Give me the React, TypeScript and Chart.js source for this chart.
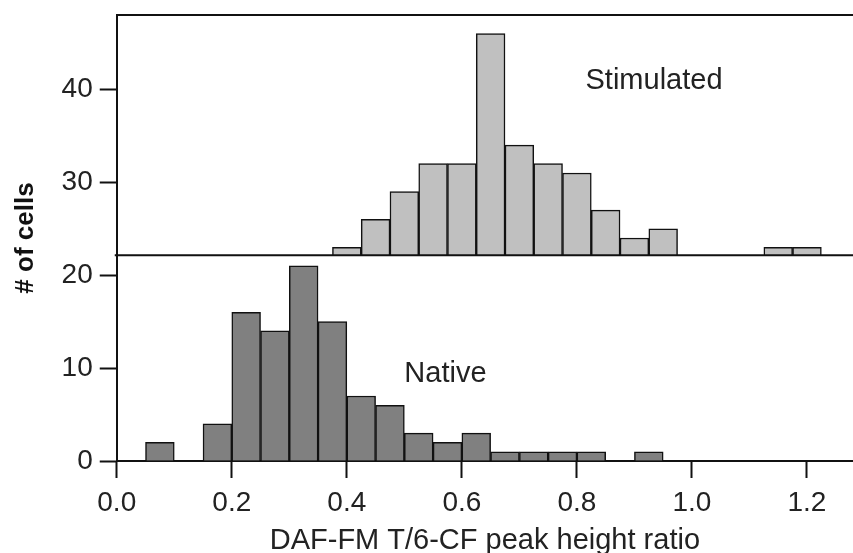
import React, { useEffect, useRef } from "react";
import { Chart, registerables } from "chart.js";

Chart.register(...registerables);

// Native cells histogram (bin centres, counts)
const nativeBins = [0.075, 0.175, 0.225, 0.275, 0.325, 0.375, 0.425, 0.475, 0.525, 0.575, 0.625, 0.675, 0.725, 0.775, 0.825, 0.925];
const nativeCounts = [2, 4, 16, 14, 21, 15, 7, 6, 3, 2, 3, 1, 1, 1, 1, 1];

// Stimulated cells histogram (bin centres, counts on the upper panel's axis)
const stimBins = [0.4, 0.45, 0.5, 0.55, 0.6, 0.65, 0.7, 0.75, 0.8, 0.85, 0.9, 0.95, 1.15, 1.2];
const stimCounts = [23, 26, 29, 32, 32, 46, 34, 32, 31, 27, 24, 25, 23, 23];

// Axis settings
const xMin = 0;
const xMax = 1.28;
const xStep = 0.2;
const yMin = 0;
const yMax = 48;
const yStep = 10;
const upperPanelBase = 22.15;

// Panel labels (text, anchor x, anchor y in data units)
const panelLabels = ["Stimulated", "Native"];
const panelLabelX = [0.815, 0.5];
const panelLabelY = [40, 8.5];

const xTitle = "DAF-FM T/6-CF peak height ratio";
const yTitle = "# of cells";

const FONT = '"Liberation Sans", Arial, Helvetica, sans-serif';
const LINE = "#111111";
const TEXT = "#222222";

const panelPlugin = {
  id: "panelPlugin",
  afterDatasetsDraw(chart: any) {
    const { ctx, chartArea, scales } = chart;
    const xs = scales.x;
    const ys = scales.y;
    ctx.save();
    ctx.strokeStyle = LINE;
    ctx.lineWidth = 2;
    ctx.beginPath();
    ctx.moveTo(chartArea.left, chartArea.top);
    ctx.lineTo(chartArea.right, chartArea.top);
    const sep = ys.getPixelForValue(upperPanelBase);
    ctx.moveTo(chartArea.left - 2, sep);
    ctx.lineTo(chartArea.right, sep);
    ctx.stroke();

    ctx.font = `29px ${FONT}`;
    ctx.fillStyle = TEXT;
    ctx.textAlign = "left";
    ctx.textBaseline = "alphabetic";
    panelLabels.forEach((t, i) => {
      ctx.fillText(t, xs.getPixelForValue(panelLabelX[i]), ys.getPixelForValue(panelLabelY[i]));
    });
    ctx.restore();
  },
};

export default function App() {
  const canvasRef = useRef<HTMLCanvasElement | null>(null);

  useEffect(() => {
    if (!canvasRef.current) return;
    const chart = new Chart(canvasRef.current, {
      type: "bar",
      data: {
        datasets: [
          {
            label: "Native",
            data: nativeBins.map((b, i) => ({ x: b, y: nativeCounts[i] })),
            xAxisID: "x",
            yAxisID: "y",
            backgroundColor: "#808080",
            borderColor: LINE,
            borderWidth: 1.5,
            barPercentage: 1,
            categoryPercentage: 1,
            grouped: false,
          },
          {
            label: "Stimulated",
            data: stimBins.map((b, i) => ({ x: b, y: stimCounts[i] })),
            xAxisID: "xTop",
            yAxisID: "y",
            base: upperPanelBase,
            backgroundColor: "#c0c0c0",
            borderColor: LINE,
            borderWidth: 1.5,
            barPercentage: 1,
            categoryPercentage: 1,
            grouped: false,
          } as any,
        ],
      },
      options: {
        responsive: false,
        animation: false,
        layout: { padding: { top: 15, left: 0, right: 0, bottom: 0 } },
        plugins: {
          legend: { display: false },
          tooltip: { enabled: false },
        },
        scales: {
          x: {
            type: "linear",
            position: "bottom",
            min: xMin,
            max: xMax,
            offset: false,
            border: { display: true, color: LINE, width: 2 },
            grid: { offset: false, drawOnChartArea: false, drawTicks: true, tickLength: 17, tickColor: LINE, tickWidth: 2 },
            ticks: {
              stepSize: xStep,
              includeBounds: false,
              padding: 8,
              color: TEXT,
              maxRotation: 0,
              autoSkip: false,
              font: { family: FONT, size: 28 },
              callback: (v: any) => Number(v).toFixed(1),
            },
            title: {
              display: true,
              text: xTitle,
              color: TEXT,
              font: { family: FONT, size: 29, lineHeight: 1 },
              padding: { top: -1.1, bottom: -2.5 },
            },
          },
          xTop: {
            type: "linear",
            position: "bottom",
            min: xMin,
            max: xMax,
            offset: false,
            grid: { offset: false },
            display: false,
          },
          y: {
            type: "linear",
            position: "left",
            min: yMin,
            max: yMax,
            border: { display: true, color: LINE, width: 2 },
            grid: { drawOnChartArea: false, drawTicks: true, tickLength: 17, tickColor: LINE, tickWidth: 2 },
            ticks: {
              stepSize: yStep,
              includeBounds: false,
              padding: 7,
              color: TEXT,
              font: { family: FONT, size: 28 },
            },
            title: {
              display: true,
              text: yTitle,
              color: LINE,
              font: { family: FONT, size: 26, weight: "bold" },
              padding: { top: 10, bottom: 13.4 },
            },
            afterFit: (scale: any) => {
              scale.paddingTop = 0;
            },
          },
        },
      } as any,
      plugins: [panelPlugin],
    });
    return () => chart.destroy();
  }, []);

  return (
    <div style={{ position: "fixed", left: 0, top: 0, width: 853, height: 553, background: "#ffffff" }}>
      <canvas ref={canvasRef} width={853} height={553} style={{ display: "block" }} />
    </div>
  );
}
